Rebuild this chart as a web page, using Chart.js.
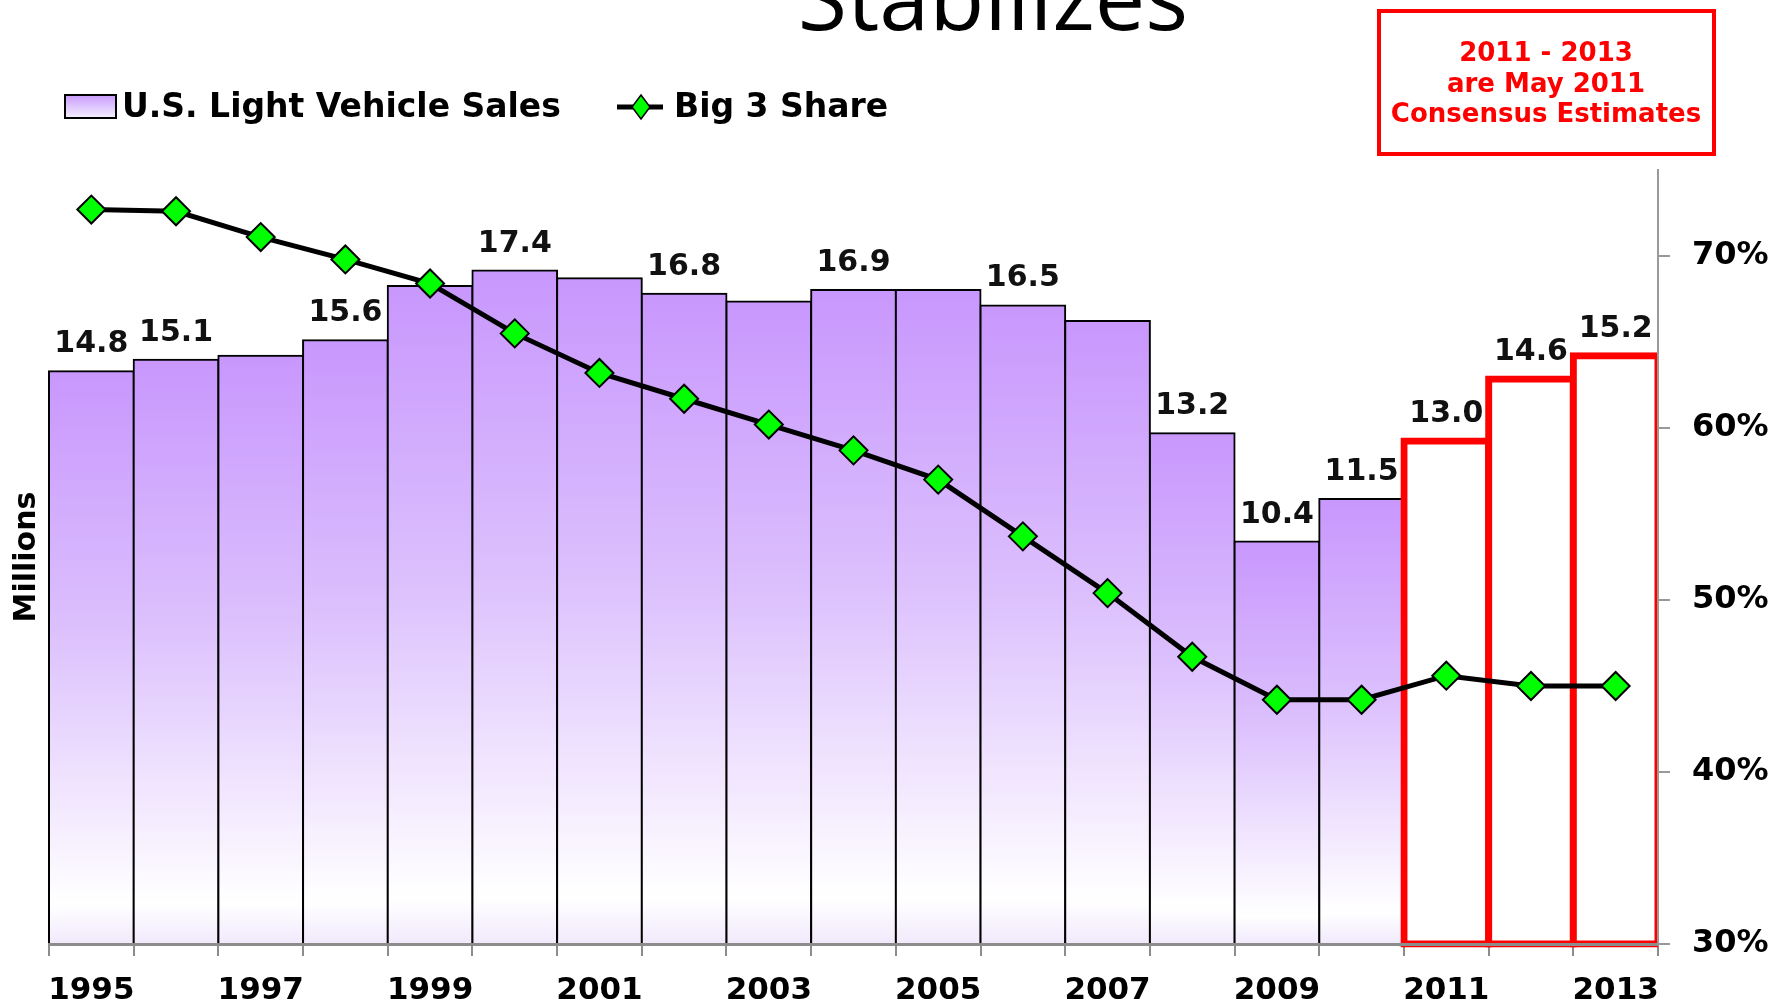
<!DOCTYPE html>
<html>
<head>
<meta charset="utf-8">
<script src="https://cdn.jsdelivr.net/npm/chart.js@4.4.1/dist/chart.umd.min.js"></script>
<style>
html,body{margin:0;padding:0;background:#ffffff;}
#wrap{width:1781px;height:1006px;position:relative;overflow:hidden;}
canvas{display:block;}
</style>
</head>
<body>
<div id="wrap"><canvas id="c" width="1781" height="1006"></canvas></div>
<script>
// ---- data ----
const years = ['1995','1996','1997','1998','1999','2000','2001','2002','2003','2004','2005','2006','2007','2008','2009','2010','2011','2012','2013'];
const sales = [14.8,15.1,15.2,15.6,17.0,17.4,17.2,16.8,16.6,16.9,16.9,16.5,16.1,13.2,10.4,11.5,13.0,14.6,15.2];
const salesLabels = ['14.8','15.1','','15.6','','17.4','','16.8','','16.9','','16.5','','13.2','10.4','11.5','13.0','14.6','15.2'];
const big3Share = [72.7,72.6,71.1,69.8,68.4,65.5,63.2,61.7,60.2,58.7,57.0,53.7,50.4,46.7,44.2,44.2,45.6,45.0,45.0];
const estimateYears = ['2011','2012','2013'];
const shareTicks = [30,40,50,60,70];
const salesRange = [0, 20];
const shareRange = [30, 75];
const titleText = 'Stabilizes';
const noteLines = ['2011 - 2013','are May 2011','Consensus Estimates'];
const legendNames = ['U.S. Light Vehicle Sales','Big 3 Share'];
const yAxisTitle = 'Millions';

const FONT = '"DejaVu Sans", Verdana, sans-serif';
const isEstimate = i => estimateYears.includes(years[i]);

function barGradient(c) {
  const chart = c.chart;
  const y = chart.scales && chart.scales.y;
  if (!y || c.type !== 'data') return '#cc99ff';
  const top = y.getPixelForValue(c.raw);
  const base = y.getPixelForValue(0);
  if (!isFinite(top) || !isFinite(base) || Math.abs(base - top) < 1) return '#cc99ff';
  const g = chart.ctx.createLinearGradient(0, top, 0, base);
  g.addColorStop(0, '#c897fd');
  g.addColorStop(0.45, '#dcc0fd');
  g.addColorStop(0.93, '#ffffff');
  g.addColorStop(1, '#f1e9fc');
  return g;
}

const decorPlugin = {
  id: 'decor',
  afterDatasetsDraw(chart) {
    const ctx = chart.ctx;
    const meta = chart.getDatasetMeta(1);
    ctx.save();
    ctx.font = 'bold 30px ' + FONT;
    ctx.fillStyle = '#111111';
    ctx.textAlign = 'center';
    ctx.textBaseline = 'alphabetic';
    meta.data.forEach((el, i) => {
      const t = salesLabels[i];
      if (t) ctx.fillText(t, el.x, el.y - 19);
    });
    ctx.restore();
  },
  afterDraw(chart) {
    const ctx = chart.ctx;
    ctx.save();
    // title (cut off at top)
    ctx.font = '90px "Open Sans", sans-serif';
    ctx.fillStyle = '#000000';
    ctx.textAlign = 'center';
    ctx.textBaseline = 'alphabetic';
    ctx.fillText(titleText, 993, 30);

    // note box
    ctx.strokeStyle = '#ff0000';
    ctx.lineWidth = 4;
    ctx.strokeRect(1379, 11, 335, 143);
    ctx.fillStyle = '#ff0000';
    ctx.font = 'bold 26px ' + FONT;
    const ys = [61, 92, 122];
    noteLines.forEach((t, i) => ctx.fillText(t, 1546, ys[i]));

    // legend
    const ly = 107;
    const g = ctx.createLinearGradient(0, 95, 0, 118);
    g.addColorStop(0, '#c89bfc');
    g.addColorStop(1, '#f6f0ff');
    ctx.fillStyle = g;
    ctx.fillRect(65, 95, 51, 23);
    ctx.strokeStyle = '#000000';
    ctx.lineWidth = 2;
    ctx.strokeRect(65, 95, 51, 23);
    ctx.font = 'bold 33px ' + FONT;
    ctx.fillStyle = '#000000';
    ctx.textAlign = 'left';
    ctx.textBaseline = 'middle';
    ctx.fillText(legendNames[0], 122, ly + 1);

    ctx.strokeStyle = '#000000';
    ctx.lineWidth = 5;
    ctx.beginPath();
    ctx.moveTo(617, ly);
    ctx.lineTo(663, ly);
    ctx.stroke();
    ctx.beginPath();
    ctx.moveTo(641, ly - 12);
    ctx.lineTo(650, ly);
    ctx.lineTo(641, ly + 12);
    ctx.lineTo(632, ly);
    ctx.closePath();
    ctx.fillStyle = '#00ff00';
    ctx.fill();
    ctx.lineWidth = 1.5;
    ctx.stroke();
    ctx.fillStyle = '#000000';
    ctx.fillText(legendNames[1], 674, ly + 1);
    ctx.restore();
  }
};

new Chart(document.getElementById('c'), {
  data: {
    labels: years,
    datasets: [
      {
        type: 'line',
        label: legendNames[1],
        data: big3Share,
        yAxisID: 'y1',
        borderColor: '#000000',
        borderWidth: 5,
        tension: 0,
        pointStyle: 'rectRot',
        pointRadius: 14,
        pointBackgroundColor: '#00ff00',
        pointBorderColor: '#000000',
        pointBorderWidth: 2,
        order: 0
      },
      {
        type: 'bar',
        label: legendNames[0],
        data: sales,
        yAxisID: 'y',
        backgroundColor: c => isEstimate(c.dataIndex) ? '#ffffff' : barGradient(c),
        borderColor: c => isEstimate(c.dataIndex) ? '#ff0000' : '#000000',
        borderWidth: c => isEstimate(c.dataIndex) ? 7 : 2,
        inflateAmount: c => isEstimate(c.dataIndex) ? 3.5 : 1,
        borderSkipped: c => isEstimate(c.dataIndex) ? false : 'start',
        barPercentage: 1,
        categoryPercentage: 1,
        clip: {left: 2, top: 30, right: 0, bottom: 4},
        order: 1
      }
    ]
  },
  options: {
    responsive: false,
    animation: false,
    devicePixelRatio: 1,
    layout: {padding: {top: 170, left: 0, right: 0, bottom: 0}},
    plugins: {legend: {display: false}, tooltip: {enabled: false}, title: {display: false}},
    scales: {
      x: {
        type: 'category',
        offset: true,
        grid: {display: true, drawOnChartArea: false, drawTicks: true, tickLength: 12, color: '#8c8c8c', lineWidth: 2, offset: true},
        border: {display: true, color: '#8c8c8c', width: 3, z: 1},
        ticks: {
          autoSkip: false,
          maxRotation: 0,
          padding: 16,
          color: '#000000',
          font: {family: FONT, size: 31, weight: 'bold'},
          callback: function(v, i) { return i % 2 === 0 ? this.getLabelForValue(v) : ''; }
        },
        afterFit: s => { s.height = 62; }
      },
      y: {
        position: 'left',
        min: salesRange[0],
        max: salesRange[1],
        grid: {display: false},
        border: {display: false},
        ticks: {display: false},
        title: {display: true, text: yAxisTitle, color: '#000000', font: {family: FONT, size: 30, weight: 'bold'}, padding: {top: 9, bottom: 0}},
        afterFit: s => { s.width = 49; }
      },
      y1: {
        position: 'right',
        min: shareRange[0],
        max: shareRange[1],
        grid: {display: true, drawOnChartArea: false, drawTicks: true, tickLength: 12, color: '#999999', lineWidth: 2},
        border: {display: true, color: '#999999', width: 2, z: 1},
        afterBuildTicks: a => { a.ticks = shareTicks.map(v => ({value: v})); },
        ticks: {
          padding: 22,
          color: '#000000',
          font: {family: FONT, size: 32, weight: 'bold'},
          callback: v => v + '%'
        },
        afterFit: s => { s.width = 123; }
      }
    }
  },
  plugins: [decorPlugin]
});
</script>
</body>
</html>
